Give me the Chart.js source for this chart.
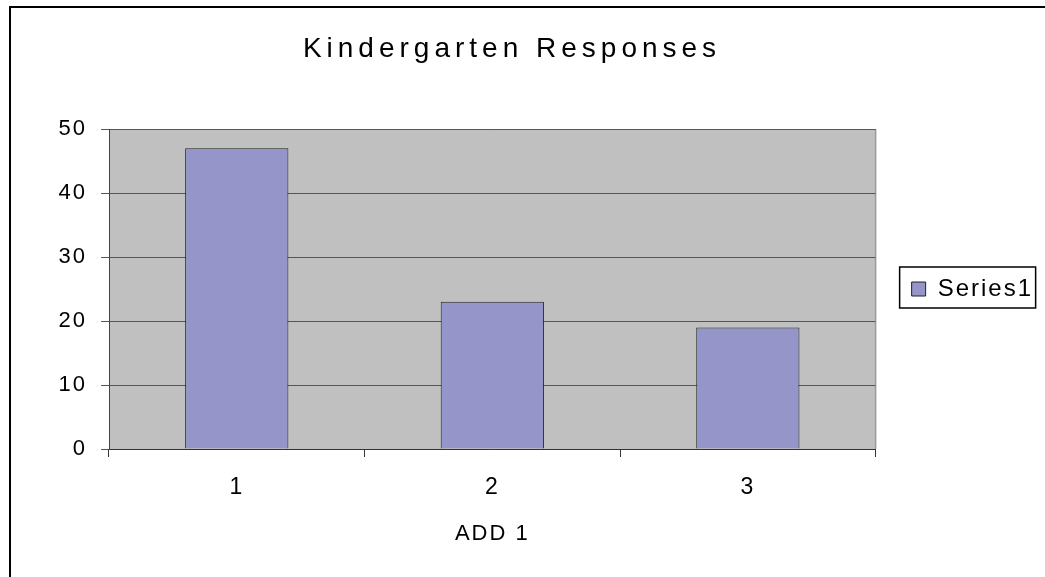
<!DOCTYPE html>
<html>
<head>
<meta charset="utf-8">
<script src="https://cdn.jsdelivr.net/npm/chart.js@4.4.0/dist/chart.umd.min.js"></script>
<style>
  html, body { margin: 0; padding: 0; background: #fff; }
  #wrap { width: 1045px; height: 577px; position: relative; }
</style>
</head>
<body>
<div id="wrap"><canvas id="chart"></canvas></div>
<script>
// ----- data -----
const categories = ['1', '2', '3'];
const series1 = [47, 23, 19];
const yTicks = [0, 10, 20, 30, 40, 50];
const seriesName = 'Series1';
const chartTitle = 'Kindergarten Responses';
const xTitle = 'ADD 1';

const FONT = '"Liberation Sans", Arial, sans-serif';

// old excel look: frame, grey plot area, boxed legend, spaced title
const excelLook = {
    id: 'excelLook',
    beforeUpdate(chart) {
        chart.ctx.letterSpacing = '2px';
    },
    beforeDraw(chart) {
        const ctx = chart.ctx;
        const a = chart.chartArea;
        ctx.save();
        ctx.fillStyle = '#000';
        ctx.fillRect(9, 6, 2, chart.height);
        ctx.fillRect(9, 6, chart.width, 2);
        ctx.fillStyle = '#c0c0c0';
        ctx.fillRect(a.left, a.top, a.right - a.left, a.bottom - a.top);
        ctx.strokeStyle = '#9a9a9a';
        ctx.lineWidth = 1.5;
        ctx.beginPath();
        ctx.moveTo(a.right, a.top);
        ctx.lineTo(a.right, a.bottom);
        ctx.stroke();
        ctx.restore();
        ctx.letterSpacing = '2px';
    },
    afterDraw(chart) {
        const ctx = chart.ctx;
        const a = chart.chartArea;
        ctx.save();
        // title
        ctx.letterSpacing = '5px';
        ctx.font = '28px ' + FONT;
        ctx.fillStyle = '#000';
        ctx.textAlign = 'center';
        ctx.textBaseline = 'alphabetic';
        ctx.fillText(chartTitle, 512, 57);
        // legend frame
        const lx = chart.legend.left + 24;
        const cy = (a.top + a.bottom) / 2 - 1.5;
        ctx.strokeStyle = '#000';
        ctx.lineWidth = 1.5;
        ctx.strokeRect(lx, cy - 20.5, 136, 41);
        ctx.restore();
    }
};

const data = {
    labels: categories,
    datasets: [{
        label: seriesName,
        data: series1,
        backgroundColor: '#9595c9',
        borderColor: '#222',
        borderWidth: 1,
        categoryPercentage: 1,
        barPercentage: 0.404
    }]
};

const config = {
    type: 'bar',
    data: data,
    options: {
        responsive: true,
        maintainAspectRatio: false,
        animation: false,
        layout: {
            padding: { top: 129, right: 2, bottom: 0, left: 0 }
        },
        plugins: {
            title: { display: false },
            tooltip: { enabled: false },
            legend: {
                position: 'right',
                fullSize: false,
                labels: {
                    boxWidth: 14,
                    boxHeight: 14,
                    padding: 36,
                    color: '#000',
                    font: { family: FONT, size: 24 }
                }
            }
        },
        scales: {
            x: {
                offset: true,
                grid: {
                    offset: true,
                    drawOnChartArea: false,
                    drawTicks: true,
                    tickLength: 8,
                    color: '#333'
                },
                border: { display: true, color: '#333', width: 1 },
                ticks: {
                    color: '#000',
                    padding: 17,
                    font: { family: FONT, size: 23 }
                },
                title: {
                    display: true,
                    text: xTitle,
                    color: '#000',
                    font: { family: FONT, size: 22 },
                    padding: { top: 0, bottom: 30 }
                },
                afterFit(scale) { scale.height = 128; }
            },
            y: {
                min: yTicks[0],
                max: yTicks[yTicks.length - 1],
                grid: { color: '#555', lineWidth: 1, tickLength: 8 },
                border: { color: '#444', width: 1 },
                ticks: {
                    stepSize: yTicks[1] - yTicks[0],
                    color: '#000',
                    padding: 14,
                    font: { family: FONT, size: 22 }
                },
                afterFit(scale) { scale.width = 109; }
            }
        }
    },
    plugins: [excelLook]
};

var chart = new Chart(document.getElementById('chart'), config);
</script>
</body>
</html>
